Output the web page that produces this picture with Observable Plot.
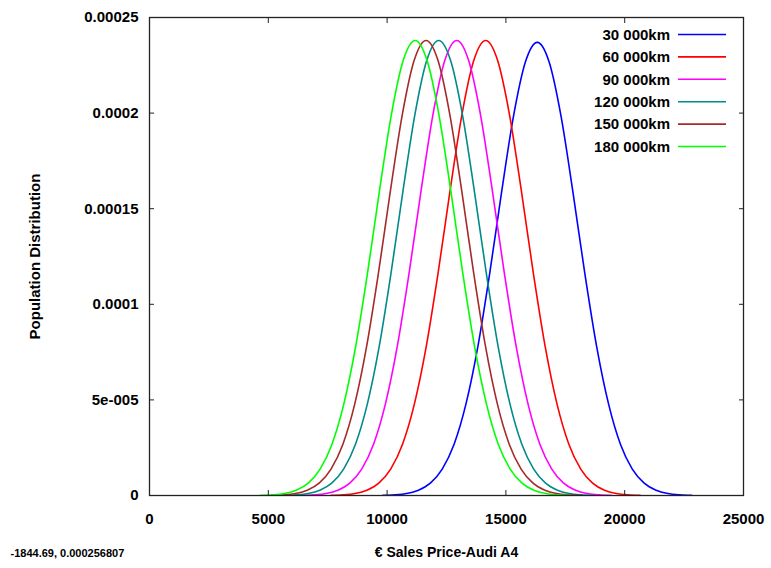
<!DOCTYPE html>
<html><head><meta charset="utf-8">
<script src="https://cdn.jsdelivr.net/npm/d3@7"></script>
<script src="https://cdn.jsdelivr.net/npm/@observablehq/plot@0.6"></script>
<style>body{margin:0;background:#fff} #chart{width:771px;height:568px}</style>
</head><body><div id="chart"></div>
<script>
// ---- data ----
const seriesNames = ["30 000km", "60 000km", "90 000km", "120 000km", "150 000km", "180 000km"];
const seriesColors = ["#0000ff", "#ff0000", "#ff00ff", "#008b8b", "#a52a2a", "#00ff00"];

const priceBlue    = [9820,10320,10820,11320,11820,12320,12820,13320,13820,14320,14820,15320,15820,16320,16820,17320,17820,18320,18820,19320,19820,20320,20820,21320,21820,22320,22820];
const priceRed     = [7650,8150,8650,9150,9650,10150,10650,11150,11650,12150,12650,13150,13650,14150,14650,15150,15650,16150,16650,17150,17650,18150,18650,19150,19650,20150,20650];
const priceMagenta = [6430,6930,7430,7930,8430,8930,9430,9930,10430,10930,11430,11930,12430,12930,13430,13930,14430,14930,15430,15930,16430,16930,17430,17930,18430,18930,19430];
const priceTeal    = [5670,6170,6670,7170,7670,8170,8670,9170,9670,10170,10670,11170,11670,12170,12670,13170,13670,14170,14670,15170,15670,16170,16670,17170,17670,18170,18670];
const priceBrown   = [5140,5640,6140,6640,7140,7640,8140,8640,9140,9640,10140,10640,11140,11640,12140,12640,13140,13640,14140,14640,15140,15640,16140,16640,17140,17640,18140];
const priceGreen   = [4680,5180,5680,6180,6680,7180,7680,8180,8680,9180,9680,10180,10680,11180,11680,12180,12680,13180,13680,14180,14680,15180,15680,16180,16680,17180,17680];

// density values (all curves share the same bell shape)
const densityBlue  = [0.00000013,0.00000039,0.00000108,0.00000277,0.00000645,0.0000138,0.0000268,0.0000479,0.0000779,0.0001163,0.0001588,0.0001984,0.0002267,0.000237,0.0002267,0.0001984,0.0001588,0.0001163,0.0000779,0.0000479,0.0000268,0.0000138,0.00000645,0.00000277,0.00000108,0.00000039,0.00000013];
const densityOther = [0.00000013,0.00000039,0.00000108,0.00000277,0.00000645,0.0000138,0.0000268,0.0000479,0.0000781,0.0001167,0.0001594,0.0001992,0.0002276,0.000238,0.0002276,0.0001992,0.0001594,0.0001167,0.0000781,0.0000479,0.0000268,0.0000138,0.00000645,0.00000277,0.00000108,0.00000039,0.00000013];

const seriesPrices = [priceBlue, priceRed, priceMagenta, priceTeal, priceBrown, priceGreen];
const seriesDensity = [densityBlue, densityOther, densityOther, densityOther, densityOther, densityOther];

const xTicks = [0, 5000, 10000, 15000, 20000, 25000];
const yTicks = [0, 0.00005, 0.0001, 0.00015, 0.0002, 0.00025];
const yTickLabels = ["0", "5e-005", "0.0001", "0.00015", "0.0002", "0.00025"];
const xLabel = "€ Sales Price-Audi A4";
const yLabel = "Population Distribution";
const statusText = "-1844.69, 0.000256807";

// ---- build table ----
const rows = [];
seriesNames.forEach((name, i) => {
  seriesPrices[i].forEach((p, j) => rows.push({series: name, price: p, density: seriesDensity[i][j]}));
});
const yLabelFor = new Map(yTicks.map((v, i) => [v, yTickLabels[i]]));

const font = "'Liberation Sans', Arial, Helvetica, sans-serif";
const chart = Plot.plot({
  width: 771, height: 568,
  marginLeft: 149, marginRight: 28, marginTop: 17, marginBottom: 73,
  style: {fontFamily: font, fontSize: "15px", fontWeight: "bold", background: "#fff", color: "#000"},
  x: {domain: [0, 25000]},
  y: {domain: [0, 0.00025]},
  color: {domain: seriesNames, range: seriesColors},
  marks: [
    Plot.lineY(rows, {x: "price", y: "density", z: "series", stroke: "series", curve: "monotone-x", strokeWidth: 1.6}),
    Plot.frame({stroke: "#222", strokeWidth: 1.3}),
    Plot.axisX(xTicks, {anchor: "bottom", tickSize: 0, tickPadding: 18, tickFormat: d => String(d), label: null, fill: "#000"}),
    Plot.axisX(xTicks, {anchor: "bottom", tickSize: -5, text: null, label: null, stroke: "#222"}),
    Plot.axisX(xTicks, {anchor: "top", tickSize: -5, text: null, label: null, stroke: "#222"}),
    Plot.axisY(yTicks, {anchor: "left", tickSize: 0, tickPadding: 11, tickFormat: d => yLabelFor.get(d), label: null, fill: "#000"}),
    Plot.axisY(yTicks, {anchor: "left", tickSize: -5, text: null, label: null, stroke: "#222"}),
    Plot.axisY(yTicks, {anchor: "right", tickSize: -5, text: null, label: null, stroke: "#222"}),
    Plot.text([yLabel], {frameAnchor: "left", dx: -114, rotate: -90, textAnchor: "middle", fill: "#000", fontSize: 15}),
    Plot.text([xLabel], {frameAnchor: "bottom", dy: 61, fill: "#000", fontSize: 14}),
    Plot.text([statusText], {frameAnchor: "bottom-left", dx: -139, dy: 61, textAnchor: "start", fill: "#000", fontSize: 11})
  ]
});
document.getElementById("chart").appendChild(chart);

// ---- legend (top-right, inside the frame) ----
const svg = d3.select(chart);
const lg = svg.append("g").attr("font-family", font).attr("font-size", 15).attr("font-weight", "bold");
seriesNames.forEach((name, i) => {
  const y = 34.5 + i * 22.4;
  lg.append("text").attr("x", 670).attr("y", y).attr("dy", "0.35em").attr("text-anchor", "end").attr("fill", "#000").text(name);
  lg.append("line").attr("x1", 678).attr("x2", 726).attr("y1", y).attr("y2", y).attr("stroke", seriesColors[i]).attr("stroke-width", 1.6);
});
</script>
</body></html>
